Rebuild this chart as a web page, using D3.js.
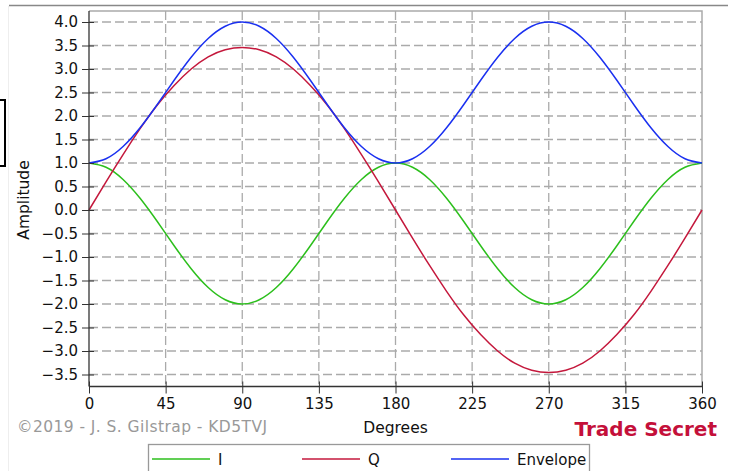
<!DOCTYPE html>
<html>
<head>
<meta charset="utf-8">
<title>I, Q and Envelope</title>
<script src="https://d3js.org/d3.v7.min.js"></script>
<style>
  body { margin: 0; background: #fff; }
  text { font-family: "DejaVu Sans", sans-serif; }
</style>
</head>
<body>
<script>
// values, every 10 degrees
const degrees = [0, 10, 20, 30, 40, 50, 60, 70, 80, 90, 100, 110, 120, 130, 140, 150, 160, 170, 180,
  190, 200, 210, 220, 230, 240, 250, 260, 270, 280, 290, 300, 310, 320, 330, 340, 350, 360];
const iValues = [1.00, 0.91, 0.65, 0.25, -0.24, -0.76, -1.25, -1.65, -1.91, -2.00, -1.91, -1.65, -1.25, -0.76, -0.24, 0.25, 0.65, 0.91, 1.00,
  0.91, 0.65, 0.25, -0.24, -0.76, -1.25, -1.65, -1.91, -2.00, -1.91, -1.65, -1.25, -0.76, -0.24, 0.25, 0.65, 0.91, 1.00];
const qValues = [0.00, 0.60, 1.18, 1.73, 2.23, 2.65, 3.00, 3.26, 3.41, 3.46, 3.41, 3.26, 3.00, 2.65, 2.23, 1.73, 1.18, 0.60, 0.00,
  -0.60, -1.18, -1.73, -2.23, -2.65, -3.00, -3.26, -3.41, -3.46, -3.41, -3.26, -3.00, -2.65, -2.23, -1.73, -1.18, -0.60, 0.00];
const envValues = [1.00, 1.09, 1.35, 1.75, 2.24, 2.76, 3.25, 3.65, 3.91, 4.00, 3.91, 3.65, 3.25, 2.76, 2.24, 1.75, 1.35, 1.09, 1.00,
  1.09, 1.35, 1.75, 2.24, 2.76, 3.25, 3.65, 3.91, 4.00, 3.91, 3.65, 3.25, 2.76, 2.24, 1.75, 1.35, 1.09, 1.00];

const xTicks = [0, 45, 90, 135, 180, 225, 270, 315, 360];
const yTicks = [-3.5, -3.0, -2.5, -2.0, -1.5, -1.0, -0.5, 0.0, 0.5, 1.0, 1.5, 2.0, 2.5, 3.0, 3.5, 4.0];

const series = [
  { name: "I", values: iValues, color: "#2cbf1c" },
  { name: "Q", values: qValues, color: "#c4183c" },
  { name: "Envelope", values: envValues, color: "#1a30f0" }
];

const W = 731, H = 471;
const plot = { left: 89, right: 702, top: 11, bottom: 386.5 };

const svg = d3.select("body").append("svg")
  .attr("width", W).attr("height", H);

// page frame bits
svg.append("line").attr("x1", 9).attr("x2", 728).attr("y1", 5.5).attr("y2", 5.5)
  .attr("stroke", "#888").attr("stroke-width", 1.5);
svg.append("line").attr("x1", 8.5).attr("x2", 8.5).attr("y1", 6).attr("y2", H)
  .attr("stroke", "#eee").attr("stroke-width", 1);
svg.append("rect").attr("x", -3).attr("y", 100).attr("width", 8).attr("height", 66)
  .attr("fill", "none").attr("stroke", "#000").attr("stroke-width", 2);

const x = d3.scaleLinear().domain([0, 360]).range([plot.left, plot.right]);
const y = d3.scaleLinear().domain([-3.5, 4]).range([374.5, 22]);

// grid
const grid = svg.append("g").attr("stroke", "#aaa").attr("stroke-width", 1.3)
  .attr("stroke-dasharray", "9,4");
grid.selectAll(".gx").data(xTicks.filter(d => d > 0 && d < 360)).enter().append("line")
  .attr("x1", d => x(d)).attr("x2", d => x(d))
  .attr("y1", plot.top).attr("y2", plot.bottom);
grid.selectAll(".gy").data(yTicks).enter().append("line")
  .attr("x1", plot.left).attr("x2", plot.right)
  .attr("y1", d => y(d)).attr("y2", d => y(d));

// top / right border
svg.append("path")
  .attr("d", `M${plot.left},${plot.top}H${plot.right}V${plot.bottom}`)
  .attr("fill", "none").attr("stroke", "#aaa").attr("stroke-width", 1.5);

// curves
const line = d3.line()
  .x((d, i) => x(degrees[i]))
  .y(d => y(d))
  .curve(d3.curveNatural);

svg.selectAll(".series").data(series).enter().append("path")
  .attr("fill", "none")
  .attr("stroke", d => d.color)
  .attr("stroke-width", 1.5)
  .attr("d", d => line(d.values));

// axes
const yAxis = svg.append("g")
  .attr("transform", `translate(${plot.left},0)`)
  .call(d3.axisLeft(y).tickValues(yTicks).tickFormat(d3.format(".1f")).tickSize(7).tickPadding(4));
yAxis.select(".domain").attr("d", `M0,${plot.top}V${plot.bottom}`).attr("stroke", "#333").attr("stroke-width", 1.3);
yAxis.selectAll(".tick line").attr("x2", -7).attr("x1", 5).attr("stroke", "#333");
yAxis.selectAll(".tick text").attr("font-size", 15).attr("fill", "#111")
  .attr("font-family", "DejaVu Sans");

const xAxis = svg.append("g")
  .attr("transform", `translate(0,${plot.bottom})`)
  .call(d3.axisBottom(x).tickValues(xTicks).tickSize(7).tickPadding(4.5));
xAxis.select(".domain").attr("d", `M${plot.left},0H${plot.right}`).attr("stroke", "#333").attr("stroke-width", 1.3);
xAxis.selectAll(".tick line").attr("y1", -5).attr("y2", 7).attr("stroke", "#333");
xAxis.selectAll(".tick text").attr("font-size", 15).attr("fill", "#111")
  .attr("font-family", "DejaVu Sans");

// labels
svg.append("text")
  .attr("transform", "translate(29,200) rotate(-90)")
  .attr("text-anchor", "middle")
  .attr("font-size", 15.5).attr("fill", "#111")
  .text("Amplitude");

svg.append("text")
  .attr("x", 395.5).attr("y", 433)
  .attr("text-anchor", "middle")
  .attr("font-size", 15.5).attr("fill", "#111")
  .text("Degrees");

svg.append("text")
  .attr("x", 17).attr("y", 432)
  .attr("font-size", 15.5).attr("fill", "#999")
  .attr("textLength", 250).attr("lengthAdjust", "spacing")
  .text("©2019 - J. S. Gilstrap - KD5TVJ");

svg.append("text")
  .attr("x", 717).attr("y", 436)
  .attr("text-anchor", "end")
  .attr("font-size", 20).attr("font-weight", "bold").attr("fill", "#c4103a")
  .text("Trade Secret");

// legend
const legend = svg.append("g");
legend.append("rect").attr("x", 148.5).attr("y", 444.5).attr("width", 441).attr("height", 40)
  .attr("fill", "#fff").attr("stroke", "#999").attr("stroke-width", 1.3);
const legendX = [152, 302, 451];
const items = legend.selectAll(".item").data(series).enter().append("g")
  .attr("transform", (d, i) => `translate(${legendX[i]},459)`);
items.append("line").attr("x1", 0).attr("x2", 58)
  .attr("stroke", d => d.color).attr("stroke-width", 1.5);
items.append("text").attr("x", 66).attr("y", 5.5)
  .attr("font-size", 15).attr("fill", "#111")
  .text(d => d.name);
</script>
</body>
</html>
